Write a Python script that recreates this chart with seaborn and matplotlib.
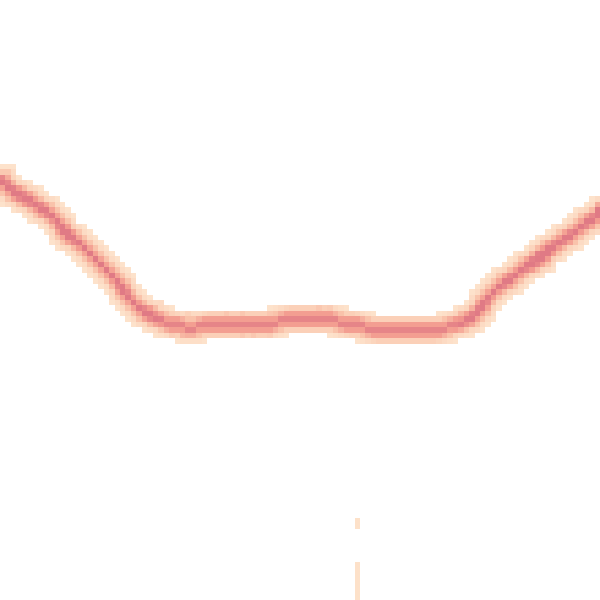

# 2d histogram of a u-shaped curve, no axes

import pandas as pd
import numpy as np
import seaborn as sns
import matplotlib.pyplot as plt

n_bins = 110
cell = 600 / n_bins

# centre line of the band (x right, y up, 0..600)
# steep arms read every 5 px
left_x = [0, 5, 10, 15, 20, 25, 30, 35, 40, 45, 50, 55, 60, 65, 70, 75, 80, 85,
          90, 95, 100, 105, 110, 115, 120, 125, 130, 135, 140, 145, 150, 155]
left_y = [420, 416, 413, 409, 406, 403, 400, 396, 392, 388, 383, 379, 374, 370,
          365, 361, 356, 351, 346, 341, 335, 330, 324, 318, 312, 307, 302, 297,
          293, 289, 285, 282]
right_x = [465, 470, 475, 480, 485, 490, 495, 500, 505, 510, 515, 520, 525, 530,
           535, 540, 545, 550, 555, 560, 565, 570, 575, 580, 585, 590, 595, 600]
right_y = [280, 283, 287, 292, 297, 303, 308, 313, 317, 321, 325, 329, 333, 337,
           340, 343, 347, 350, 353, 357, 361, 365, 370, 374, 378, 381, 385, 388]

# flat bottom read once per grid column (columns 29..84)
mid_y = [279, 276, 275, 273, 273, 272, 272, 273,
         273, 274, 274, 274, 274, 275, 275, 275,
         276, 276, 277, 277, 278, 278, 279, 279,
         279, 280, 280, 280, 281, 281, 281, 280,
         279, 277, 276, 275, 274, 273, 272, 272,
         271, 271, 270, 270, 270, 270, 270, 271,
         271, 271, 271, 272, 272, 273, 274, 276]
mid_x = list((np.arange(29, 29 + len(mid_y)) + 0.5) * cell)

# the bottom is a bit lighter than the arms
arm_w = 1.0
mid_w = 0.75

# stray light cells around the flat part
speck_x = [160, 186, 224, 243, 270, 318, 328, 170, 185, 240, 252, 268]
speck_y = [295, 285, 285, 285, 285, 290, 290, 262, 262, 262, 262, 262]

# thin vertical trail near the bottom
tail_x = [359, 359, 359, 359, 359, 359, 359, 359, 359]
tail_y = [73, 78, 3, 8, 14, 19, 25, 30, 36]

# how the count spreads around each centre point (by ring, in cells)
ring_w = [1.0, 0.45, 0.12]

centres = ([(x, y, arm_w) for x, y in zip(left_x, left_y)]
           + [(x, y, mid_w) for x, y in zip(mid_x, mid_y)]
           + [(x, y, arm_w) for x, y in zip(right_x, right_y)])

rows = []
for cx, cy, cw in centres:
    for dx in range(-2, 3):
        for dy in range(-2, 3):
            r = max(abs(dx), abs(dy))
            rows.append((cx + dx * cell, cy + dy * cell, cw * ring_w[r]))
for sx, sy in zip(speck_x, speck_y):
    rows.append((sx, sy, 0.15))
for tx, ty in zip(tail_x, tail_y):
    rows.append((tx, ty, 0.15))

df = pd.DataFrame(rows, columns=['x', 'y', 'w'])

cmap = sns.blend_palette(['#fde2cb', '#f9c3ab', '#f39b8f', '#e07a85'], as_cmap=True)

fig = plt.figure(figsize=(6, 6), dpi=100)
ax = fig.add_axes([0, 0, 1, 1])
sns.histplot(data=df, x='x', y='y', weights='w', bins=n_bins,
             binrange=((0, 600), (0, 600)), cmap=cmap, vmin=0.12, vmax=1.8,
             ax=ax)
ax.set_xlim(0, 600)
ax.set_ylim(0, 600)
ax.axis('off')
fig.savefig('out.png')
